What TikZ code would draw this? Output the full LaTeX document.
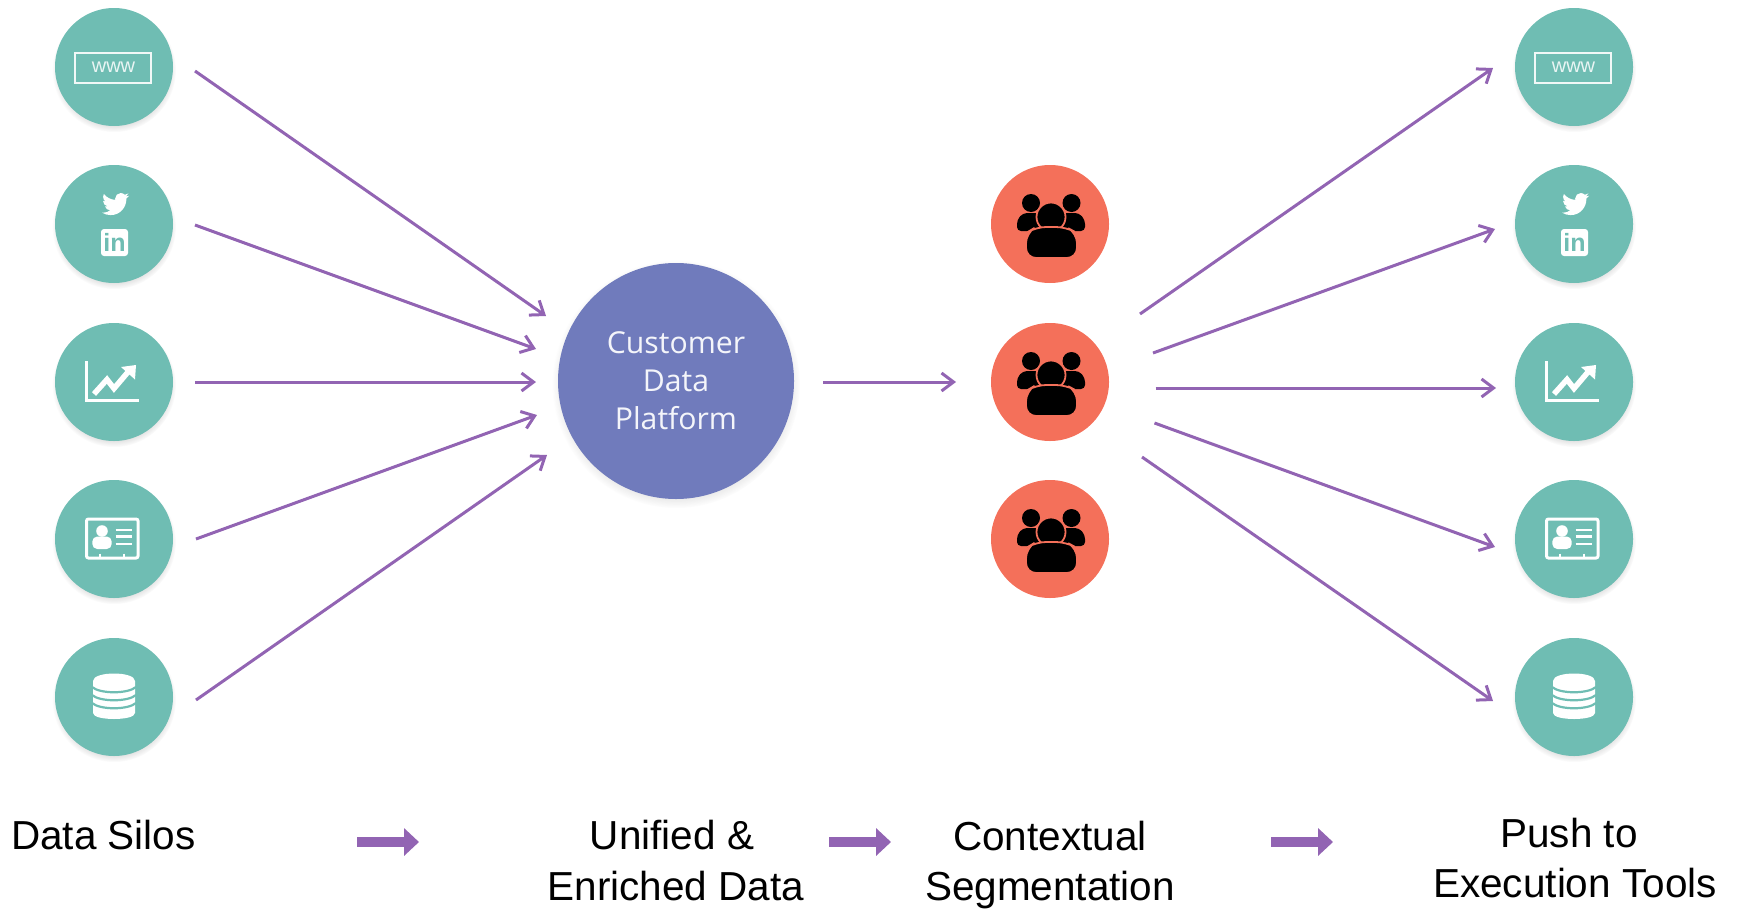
\documentclass[tikz,border=0pt]{standalone}
\usepackage{fontspec}
\setmainfont{Liberation Sans}
\newfontfamily\cdpfont{Open Sans}
\usetikzlibrary{arrows.meta}
\usetikzlibrary{shadows}

\definecolor{silogreen}{HTML}{6FBDB3}
\definecolor{segred}{HTML}{F4705A}
\definecolor{cdpblue}{HTML}{707BBC}
\definecolor{flowpurple}{HTML}{9264B3}

\tikzset{
  softshadow/.style={circular drop shadow={shadow xshift=0pt,shadow yshift=-3pt,shadow scale=1.05,opacity=0.25,fill=black!60}},
  silo/.style={circle,fill=silogreen,minimum size=118pt,inner sep=0pt,softshadow},
  segment/.style={circle,fill=segred,minimum size=118pt,inner sep=0pt},
  cdpnode/.style={circle,fill=cdpblue,minimum size=236pt,inner sep=0pt,softshadow,text=white!92!cdpblue,align=center,font=\cdpfont\fontsize{30.2}{37.9}\selectfont},
  flow/.style={draw=flowpurple,line width=3pt,-{Straight Barb[length=12pt,width=18pt,line width=3pt]}},
  stepflow/.style={draw=flowpurple,line width=10pt,-{Triangle[length=15pt,width=27pt]}},
  caption/.style={inner sep=0pt,align=center,font=\fontsize{40.5}{51}\selectfont}
}

% icons, drawn around the centre of a circle
\newcommand{\wwwicon}[1]{
\begin{scope}[shift={(#1.center)}]
\draw[white!90!silogreen,line width=1.8pt] (-39,-14) rectangle (37,16);
\node[text=white!85!silogreen,inner sep=0pt,font=\fontsize{20}{20}\selectfont] (#1www) at (-0.5,0.5) {www};
\end{scope}}

\newcommand{\socialicon}[1]{
\begin{scope}[shift={(#1.center)}]
\begin{scope}[shift={(-12,-33.5)},scale=1.13]
\fill[white] (23.95,4.57) .. controls (23.1,4.95) and (22.1,5.2) .. (21.13,5.35) .. controls (22.15,4.72) and (22.93,3.75) .. (23.29,2.62) .. controls (22.34,3.18) and (21.29,3.58) .. (20.16,3.8) .. controls (19.27,2.85) and (18,2.25) .. (16.57,2.25) .. controls (13.85,2.25) and (11.65,4.45) .. (11.65,7.17) .. controls (11.65,7.56) and (11.7,7.93) .. (11.78,8.29) .. controls (7.69,8.09) and (4.07,6.13) .. (1.64,3.16) .. controls (1.21,3.89) and (0.97,4.74) .. (0.97,5.64) .. controls (0.97,7.35) and (1.84,8.85) .. (3.16,9.73) .. controls (2.35,9.7) and (1.6,9.48) .. (0.93,9.12) -- (0.93,9.18) .. controls (0.93,11.56) and (2.63,13.55) .. (4.88,14.01) .. controls (4.17,14.2) and (3.42,14.23) .. (2.67,14.09) .. controls (3.3,16.05) and (5.12,17.47) .. (7.27,17.51) .. controls (5.58,18.83) and (3.46,19.61) .. (1.17,19.61) .. controls (0.78,19.61) and (0.39,19.59) .. (0,19.55) .. controls (2.18,20.95) and (4.77,21.76) .. (7.56,21.76) .. controls (16.61,21.76) and (21.56,14.26) .. (21.56,7.77) .. controls (21.56,7.56) and (21.56,7.35) .. (21.54,7.14) .. controls (22.5,6.45) and (23.34,5.58) .. (24,4.59) -- cycle;
\end{scope}
\fill[white,rounded corners=3pt] (-13,5) rectangle (14,32);
\node[text=silogreen,inner sep=0pt,font=\bfseries\fontsize{25}{25}\selectfont] (#1in) at (0.5,18) {in};
\end{scope}}

\newcommand{\charticon}[1]{
\begin{scope}[shift={(#1.center)}]
\draw[white,line width=2.8pt] (-27.5,-21) -- (-27.5,18.5) -- (25,18.5);
\draw[white,line width=5.5pt] (-20,12) -- (-7,-2.5) -- (0,6.5) -- (14,-10);
\fill[white] (7,-15) -- (22,-17) -- (21,-2.5) -- cycle;
\end{scope}}

\newcommand{\cardicon}[1]{
\begin{scope}[shift={(#1.center)}]
\draw[white,line width=3pt,rounded corners=2pt] (-27.5,-20) rectangle (24,19);
\fill[white] (-12,-8) circle (5.8);
\fill[white,rounded corners=5pt] (-21.7,10) rectangle (-2.3,-2.5);
\draw[white,line width=2.6pt] (1.7,-9) -- (18,-9) (1.7,-2.3) -- (18,-2.3) (1.7,5) -- (18,5);
\draw[white,line width=2pt] (-14,14.5) -- (-14,19) (10,14.5) -- (10,19);
\end{scope}}

\newcommand{\dbicon}[1]{
\begin{scope}[shift={(#1.center)}]
\fill[white] (-21,-16) .. controls (-21,-26) and (21,-26) .. (21,-16) -- (21,16) .. controls (21,24) and (-21,24) .. (-21,16) -- cycle;
\draw[silogreen,line width=2.2pt] (-22,-10) .. controls (-14,-3) and (14,-3) .. (22,-10);
\draw[silogreen,line width=2.2pt] (-22,-2) .. controls (-14,5) and (14,5) .. (22,-2);
\draw[silogreen,line width=2.2pt] (-22,6) .. controls (-14,13) and (14,13) .. (22,6);
\end{scope}}

\newcommand{\peopleicon}[1]{
\begin{scope}[shift={(#1.center)}]
\fill[black] (-19,-21) circle (9) (21.5,-21) circle (9);
\fill[black,rounded corners=4pt] (-33,7) -- (-33,-4) -- (-27,-11) -- (-8,-11) -- (-8,7) -- cycle;
\fill[black,rounded corners=4pt] (35,7) -- (35,-4) -- (29,-11) -- (10,-11) -- (10,7) -- cycle;
\filldraw[black,draw=segred,line width=1.8pt] (1,-7) circle (14.5);
\filldraw[black,draw=segred,line width=1.8pt,rounded corners=10pt] (-24,34) -- (-24,9) -- (-14,3) -- (16,3) -- (27,9) -- (27,34) -- cycle;
\end{scope}}

\begin{document}
\begin{tikzpicture}[x=1pt,y=-1pt]
\useasboundingbox (0,0) rectangle (1739,913);

\node[silo] (silo1) at (114,67) {};
\node[silo] (silo2) at (114,224) {};
\node[silo] (silo3) at (114,382) {};
\node[silo] (silo4) at (114,539) {};
\node[silo] (silo5) at (114,697) {};

\node[cdpnode] (cdp) at (676,381) {Customer\\Data\\Platform};

\node[segment] (seg1) at (1050,224) {};
\node[segment] (seg2) at (1050,382) {};
\node[segment] (seg3) at (1050,539) {};

\node[silo] (tool1) at (1574,67) {};
\node[silo] (tool2) at (1574,224) {};
\node[silo] (tool3) at (1574,382) {};
\node[silo] (tool4) at (1574,539) {};
\node[silo] (tool5) at (1574,697) {};

\wwwicon{silo1}
\socialicon{silo2}
\charticon{silo3}
\cardicon{silo4}
\dbicon{silo5}

\wwwicon{tool1}
\socialicon{tool2}
\charticon{tool3}
\cardicon{tool4}
\dbicon{tool5}

\peopleicon{seg1}
\peopleicon{seg2}
\peopleicon{seg3}

\draw[flow] ([shift={(81,4)}]silo1.center) -- ([shift={(-130,-65)}]cdp.center);
\draw[flow] ([shift={(81,1)}]silo2.center) -- ([shift={(-140,-32)}]cdp.center);
\draw[flow] ([shift={(81,0)}]silo3.center) -- ([shift={(-140,1)}]cdp.center);
\draw[flow] ([shift={(82,0)}]silo4.center) -- ([shift={(-139,34)}]cdp.center);
\draw[flow] ([shift={(82,3)}]silo5.center) -- ([shift={(-129,74)}]cdp.center);

\draw[flow] ([shift={(147,1)}]cdp.center) -- ([shift={(-94,0)}]seg2.center);

\draw[flow] ([shift={(90,-68)}]seg2.center) -- ([shift={(-81,1)}]tool1.center);
\draw[flow] ([shift={(103,-29)}]seg2.center) -- ([shift={(-79,5)}]tool2.center);
\draw[flow] ([shift={(105.5,6)}]seg2.center) -- ([shift={(-78,6)}]tool3.center);
\draw[flow] ([shift={(104.5,41)}]seg2.center) -- ([shift={(-79,8)}]tool4.center);
\draw[flow] ([shift={(92,75)}]seg2.center) -- ([shift={(-81,4)}]tool5.center);

\node[caption,anchor=base west] (lblsilos) at (11,849) {Data Silos};
\node[caption,anchor=base] (lblunified) at (672,849) {Unified \&};
\node[caption,anchor=base] (lblenriched) at (676,900) {Enriched Data};
\node[caption,anchor=base] (lblcontext) at (1050,850) {Contextual};
\node[caption,anchor=base] (lblsegment) at (1050,900) {Segmentation};
\node[caption,anchor=base] (lblpush) at (1569,847) {Push to};
\node[caption,anchor=base] (lblexec) at (1575,897) {Execution Tools};

\coordinate (step1a) at (357,842);
\coordinate (step1b) at (419,842);
\coordinate (step2a) at (829,842);
\coordinate (step2b) at (891,842);
\coordinate (step3a) at (1271,842);
\coordinate (step3b) at (1333,842);

\draw[stepflow] (step1a) -- (step1b);
\draw[stepflow] (step2a) -- (step2b);
\draw[stepflow] (step3a) -- (step3b);

\end{tikzpicture}
\end{document}
